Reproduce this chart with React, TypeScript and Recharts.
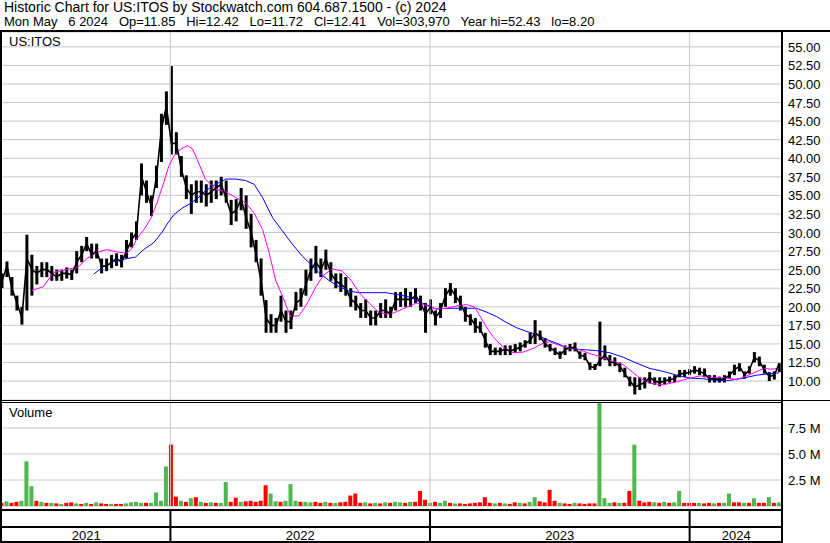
import React from 'react';
import { ComposedChart, Bar, Line, XAxis, YAxis, CartesianGrid, ReferenceLine } from 'recharts';

const FONT = '"Liberation Sans", Arial, sans-serif';

// weekly bars, week 0 = early May 2021
const priceClose = [
  23.5, 25.5, 22.5, 20.5, 18.5, 26.5, 25, 24.5, 25, 25,
  24.5, 24, 24.5, 24.5, 24.3, 26, 27, 28.5, 27, 27.5,
  25.5, 25.5, 26, 26.5, 26, 27.5, 29, 30, 37.5, 35.5,
  33.5, 37.5, 44, 47, 42, 42, 38.5, 36, 35, 35.5,
  35.5, 35, 35.5, 36, 36.5, 34.5, 32.5, 33, 34.5, 32,
  30, 27, 23.5, 18.5, 17.5, 17.5, 19.5, 18, 18, 20.5,
  21, 23, 25, 26, 25, 26.5, 24.5, 23.5, 23, 22.5,
  21, 20.5, 19.5, 19.5, 18.5, 18.5, 19.5, 19.5, 19, 21,
  21, 21, 21, 21.5, 20.5, 19, 20, 18.5, 19.5, 21.5,
  22.5, 21.5, 20.5, 19, 18.5, 17.5, 17, 15.5, 14, 14,
  14, 14.3, 14, 14.3, 14.5, 15, 15.5, 16.5, 16, 15,
  14.5, 14, 13.5, 14.2, 14.5, 14.5, 13.5, 13.3, 12, 11.8,
  12.8, 13.5, 12.5, 12.5, 12, 11, 10, 9.2, 9.5, 9.8,
  10.5, 10, 9.8, 10, 10.2, 10.3, 11, 11, 11.2, 11.5,
  11.3, 11, 10.3, 10.3, 10.2, 10.3, 10.8, 11.5, 12, 10.8,
  11.5, 13.2, 12.7, 11.5, 10.6, 10.8, 12.4,
];
const priceLo = [
  22.5, 24, 21.5, 19.5, 17.6, 19.5, 21.5, 23, 24, 24,
  23.5, 23.5, 23.5, 23.8, 23.6, 24.5, 26, 27.5, 26.5, 26.5,
  24.5, 24.8, 25.2, 25.5, 25.3, 26.5, 28, 29, 35, 34,
  32.2, 36, 39.5, 44.5, 40.5, 40.5, 37.5, 34.5, 32.5, 34,
  34, 33.5, 34, 34.5, 35, 34, 31, 31.5, 33, 30.5,
  28, 26, 21.5, 16.5, 16.5, 16.5, 18, 16.5, 17, 19.5,
  20, 21.5, 23.5, 24.5, 24, 25, 23.5, 22.5, 22, 21.5,
  20, 19.5, 18.5, 18.5, 17.5, 17.5, 18.5, 18.5, 18.5, 19.5,
  20, 20, 20, 20.5, 19.5, 16.5, 19, 17.5, 18.5, 20,
  21.5, 20.5, 19.5, 18, 17.5, 16.5, 16.5, 14.5, 13.5, 13.5,
  13.5, 13.5, 13.5, 13.8, 14, 14.5, 15, 15, 15.5, 14.5,
  14, 13.5, 13, 13.5, 14, 14, 13, 12.8, 11.5, 11.5,
  12, 12.8, 12, 12, 11.2, 10.5, 9.3, 8.2, 8.8, 9,
  9.7, 9.5, 9.3, 9.6, 9.8, 9.8, 10.5, 10.5, 10.8, 11,
  10.8, 10.5, 9.8, 9.8, 9.8, 9.8, 10.3, 10.8, 11.3, 10.3,
  11, 12.5, 12, 11, 10, 10.2, 11.2,
];
const priceHi = [
  24.5, 26.1, 24, 21.5, 20, 29.7, 27, 25.5, 26, 26,
  25.5, 25, 25, 25.3, 25, 27.5, 28.2, 29.4, 28.5, 28.5,
  26.5, 26.5, 27, 27.2, 27, 29, 30, 31.5, 39.3, 37,
  35, 39, 46, 49, 52.4, 43.5, 40.3, 37.7, 36.5, 37,
  37, 36.5, 37, 37, 37.5, 37, 34.4, 34.5, 36, 35,
  32.5, 29, 26.5, 20.9, 19, 18.5, 21.5, 19.5, 19.5, 22,
  22.5, 25, 26.5, 28.2, 26.5, 27.7, 26, 24.5, 24.5, 24,
  22.5, 21.5, 20.5, 21, 19.5, 19.5, 20.5, 21, 20, 22,
  22, 22.5, 22, 22.5, 21.5, 20.5, 21, 19.5, 20.5, 22.5,
  23.2, 22.5, 21.5, 20, 19, 18.5, 18, 16.5, 15, 14.5,
  14.5, 14.8, 14.8, 15, 15.2, 15.5, 16.5, 18.2, 16.8, 15.8,
  15, 14.5, 14, 14.8, 15, 15.2, 14, 13.8, 12.5, 12.3,
  18, 14.8, 13.5, 13.2, 12.5, 11.8, 10.6, 10.5, 10.5, 10.5,
  11.2, 10.5, 10.5, 10.5, 10.6, 10.8, 11.5, 11.5, 11.6, 12,
  11.8, 11.7, 10.8, 10.8, 10.6, 10.8, 11.3, 12.2, 12.4, 11.3,
  12, 13.9, 13.3, 12.2, 11.2, 11.3, 12.4,
];

// volume in millions, u = up day, d = down day
const volume = [
  0.3, 0.45, 0.3, 0.4, 0.5, 4.3, 1.9, 0.5, 0.4, 0.3,
  0.3, 0.25, 0.2, 0.3, 0.35, 0.25, 0.2, 0.3, 0.2, 0.35,
  0.25, 0.2, 0.2, 0.2, 0.2, 0.25, 0.35, 0.4, 0.3, 0.3,
  0.3, 1.3, 0.5, 3.8, 5.9, 0.9, 0.5, 0.4, 0.75, 0.85,
  0.4, 0.3, 0.35, 0.3, 0.3, 2.3, 0.4, 0.8, 0.4, 0.45,
  0.5, 0.4, 0.5, 2.0, 1.2, 0.45, 0.4, 0.5, 2.1, 0.5,
  0.4, 0.4, 0.35, 0.4, 0.3, 0.4, 0.3, 0.3, 0.35, 0.4,
  1.0, 1.2, 0.3, 0.35, 0.25, 0.3, 0.25, 0.35, 0.3, 0.4,
  0.35, 0.3, 0.4, 0.4, 1.45, 0.6, 0.3, 0.4, 0.3, 0.5,
  0.3, 0.25, 0.25, 0.2, 0.25, 0.3, 0.35, 0.85, 0.3, 0.25,
  0.3, 0.25, 0.2, 0.35, 0.3, 0.25, 0.4, 0.85, 0.45, 0.35,
  1.55, 0.5, 0.3, 0.25, 0.2, 0.3, 0.25, 0.2, 0.25, 0.25,
  10, 0.75, 0.3, 0.35, 0.3, 0.3, 1.45, 5.9, 0.5, 0.35,
  0.4, 0.35, 0.3, 0.4, 0.3, 0.35, 1.45, 0.3, 0.3, 0.3,
  0.3, 0.25, 0.3, 0.25, 0.3, 0.3, 1.2, 0.35, 0.35, 0.3,
  0.3, 0.75, 0.3, 0.3, 0.85, 0.3, 0.35,
];
const volumeDir = [
  'd', 'u', 'd', 'd', 'u', 'u', 'u', 'd', 'u', 'd',
  'u', 'd', 'u', 'd', 'd', 'u', 'd', 'u', 'd', 'u',
  'd', 'd', 'u', 'd', 'd', 'u', 'u', 'u', 'u', 'd',
  'u', 'u', 'u', 'u', 'd', 'd', 'u', 'd', 'u', 'd',
  'u', 'd', 'u', 'd', 'u', 'u', 'd', 'd', 'u', 'd',
  'd', 'd', 'd', 'd', 'u', 'u', 'd', 'u', 'u', 'u',
  'd', 'u', 'u', 'd', 'd', 'u', 'd', 'u', 'd', 'd',
  'd', 'd', 'd', 'u', 'd', 'u', 'd', 'u', 'd', 'u',
  'u', 'd', 'u', 'd', 'd', 'd', 'u', 'd', 'u', 'u',
  'd', 'u', 'd', 'd', 'd', 'd', 'd', 'd', 'd', 'u',
  'd', 'u', 'd', 'd', 'u', 'd', 'u', 'u', 'd', 'd',
  'd', 'd', 'u', 'd', 'd', 'u', 'd', 'd', 'd', 'd',
  'u', 'u', 'u', 'd', 'u', 'd', 'd', 'u', 'd', 'd',
  'd', 'u', 'd', 'u', 'd', 'u', 'u', 'd', 'd', 'd',
  'u', 'd', 'd', 'u', 'd', 'u', 'u', 'd', 'd', 'u',
  'd', 'u', 'd', 'd', 'u', 'd', 'u',
];

// moving averages: [week, value]
const fastAvg = [
  [6, 22.2], [8.3, 22.7], [10.3, 24.6], [13, 25], [15.4, 25.4], [17, 26.5], [19, 27.3], [21, 27.7],
  [23, 27.4], [25, 27.2], [26, 27.8], [27.1, 29.2], [28.4, 30.3], [29.8, 31.8], [31.1, 34], [32.5, 36.8],
  [33.5, 39], [34.5, 40.3], [35.8, 41.2], [37.2, 41.7], [38.2, 41.3], [39.2, 39.8], [40.8, 37.2], [42.9, 35.8],
  [44.9, 35.5], [46.9, 34.7], [48.9, 34], [50.6, 32.6], [52.3, 30.4], [53.6, 27.3], [54.9, 23.6], [56.3, 21.4],
  [57.9, 18.7], [59.6, 18.8], [61.3, 20.5], [63, 22.7], [64.6, 24.3], [66.3, 25.1], [68.3, 24.8], [70, 23.6],
  [71.7, 21.9], [73.7, 20.5], [75.4, 19.4], [77.1, 19], [78.7, 19.2], [80.4, 19.7], [83.1, 20.5], [85.1, 20.2],
  [87.1, 19.7], [89.1, 19.8], [91.1, 20.1], [93.2, 20.3], [94.8, 20], [95.8, 18.9], [97.2, 17.3], [98.5, 16],
  [100.5, 14.6], [102.6, 13.8], [104.6, 13.9], [106.6, 14.4], [108.6, 15.1], [109.9, 15.3], [111.9, 14.8], [113.9, 14.4],
  [116, 14.2], [118, 13.7], [120, 13.3], [122, 12.8], [124.7, 12.2], [126, 11.5], [128, 10.4], [130, 9.7],
  [132.7, 9.5], [135.4, 9.9], [138.1, 10.4], [140.1, 10.7], [142.8, 10.5], [145.5, 10.4], [147.5, 10.2], [149.5, 10.7],
  [151.5, 11.3], [152.9, 11.7], [154.2, 11.6], [155.9, 11.7],
];
const slowAvg = [
  [18.4, 24.4], [20.4, 25.4], [22.4, 26.1], [24.4, 26.4], [26.8, 26.7], [28.4, 27.7], [30.4, 28.6], [32.1, 30],
  [33.1, 31.1], [34.5, 32.4], [36.2, 33.3], [37.8, 33.9], [39.8, 34.9], [40.8, 35.6], [42.9, 36.5], [44.9, 37.2],
  [46.9, 37.2], [48.9, 37], [50.6, 36.5], [52.3, 34.7], [54.3, 32], [56.3, 30.2], [58.3, 28.4], [60.3, 26.8],
  [62, 25.7], [63.6, 24.6], [65.7, 23.5], [67.7, 22.7], [69.7, 22.1], [71.7, 21.9], [74.4, 21.9], [77.1, 21.9],
  [79.7, 21.6], [81.8, 21.3], [84.4, 20.5], [87.1, 19.7], [89.8, 19.8], [92.5, 19.8], [95.2, 19.8], [97.2, 19.3],
  [99.2, 18.7], [101.2, 17.9], [103.2, 17.2], [105.2, 16.7], [107.2, 16.3], [109.3, 15.6], [111.3, 15.1], [113.3, 14.5],
  [115.3, 14.3], [117.3, 14.2], [119.3, 14.1], [122, 13.8], [124.7, 13.2], [127.4, 12.4], [130, 11.7], [132.7, 11.3],
  [135.4, 10.8], [138.1, 10.4], [140.8, 10.3], [143.5, 10.05], [146.1, 10.1], [148.8, 10.4], [151.5, 10.8], [154.2, 11],
  [155.9, 11.1],
];

const priceTicks = [10, 12.5, 15, 17.5, 20, 22.5, 25, 27.5, 30, 32.5, 35, 37.5, 40, 42.5, 45, 47.5, 50, 52.5, 55];
const volumeTicks = [2.5, 5, 7.5];
const years = ['2021', '2022', '2023', '2024'];
const yearStarts = [33.8, 85.9, 138.0]; // weeks where 2022, 2023, 2024 begin
const WEEK_END = 156.74;

const bars = priceClose.map((c, i) => ({
  w: i,
  close: c,
  range: [priceLo[i], priceHi[i]],
  vol: volume[i],
  up: volumeDir[i] === 'u',
}));
const fastData = fastAvg.map(([w, v]) => ({ w, v }));
const slowData = slowAvg.map(([w, v]) => ({ w, v }));

const bounds = [0, ...yearStarts, WEEK_END];
const yearMids = years.map((_, i) => (bounds[i] + bounds[i + 1]) / 2);

const PriceTick = (props: any) => (
  <text x={props.x} y={props.y} dy={5} fontSize={13} fontFamily={FONT} fill="#000" textAnchor="start">
    {Number(props.payload.value).toFixed(2)}
  </text>
);

const VolTick = (props: any) => (
  <text x={props.x} y={props.y} dy={5} fontSize={13} fontFamily={FONT} fill="#000" textAnchor="start">
    {Number(props.payload.value).toFixed(1) + ' M'}
  </text>
);

const YearTick = (props: any) => {
  const v = props.payload.value;
  if (yearStarts.indexOf(v) >= 0) {
    return <line x1={props.x} x2={props.x} y1={107} y2={141} stroke="#000" strokeWidth={2} />;
  }
  const idx = yearMids.indexOf(v);
  return (
    <text x={props.x} y={138} fontSize={13} fontFamily={FONT} fill="#000" textAnchor="middle">
      {years[idx]}
    </text>
  );
};

// fixed-width sticks centred on the week
const PriceStick = (p: any) => {
  if (p.height == null || isNaN(p.y)) return null;
  const cx = p.x + p.width / 2;
  return <rect x={cx - 1.5} y={p.y} width={3} height={Math.max(Math.abs(p.height), 1)} fill="#000" />;
};
const VolStick = (p: any) => {
  if (p.height == null || isNaN(p.y)) return null;
  const cx = p.x + p.width / 2;
  return (
    <rect x={cx - 2} y={p.y} width={4} height={Math.max(p.height, 1)} fill={p.payload && p.payload.up ? '#4db84d' : '#ff0000'} />
  );
};

const hline = (top: number, h: number, w = 783) => (
  <div style={{ position: 'absolute', left: 0, top, width: w, height: h, background: '#000' }} />
);

export default function App() {
  return (
    <div style={{ position: 'absolute', left: 0, top: 0, width: 830, height: 543, background: '#fff', overflow: 'hidden', fontFamily: FONT }}>
      <div style={{ position: 'absolute', left: 4, top: 0, fontSize: 14, lineHeight: '15px', whiteSpace: 'pre', color: '#000' }}>
        Historic Chart for US:ITOS by Stockwatch.com 604.687.1500 - (c) 2024
      </div>
      <div style={{ position: 'absolute', left: 4, top: 15, fontSize: 13, lineHeight: '14px', whiteSpace: 'pre', color: '#000' }}>
        {'Mon May   6 2024   Op=11.85   Hi=12.42   Lo=11.72   Cl=12.41   Vol=303,970   Year hi=52.43   lo=8.20'}
      </div>

      <div style={{ position: 'absolute', left: 2, top: 32 }}>
        <ComposedChart width={826} height={368} data={bars} margin={{ top: 0, right: 0, bottom: 0, left: 0 }}>
          <CartesianGrid vertical={false} stroke="#c8c8c8" />
          <XAxis dataKey="w" type="number" domain={[0, WEEK_END]} allowDataOverflow hide />
          <YAxis
            orientation="right"
            width={45}
            domain={[7.45, 57]}
            allowDataOverflow
            ticks={priceTicks}
            interval={0}
            axisLine={false}
            tickLine={false}
            tickSize={0}
            tickMargin={5}
            tick={<PriceTick />}
          />
          {yearStarts.map((w) => (
            <ReferenceLine key={w} x={w} stroke="#c8c8c8" />
          ))}
          <Line data={slowData} dataKey="v" type="linear" stroke="#0000ff" strokeWidth={1} dot={false} isAnimationActive={false} />
          <Line data={fastData} dataKey="v" type="linear" stroke="#ff00ff" strokeWidth={1} dot={false} isAnimationActive={false} />
          <Bar dataKey="range" fill="#000" barSize={3} shape={<PriceStick />} isAnimationActive={false} />
          <Line dataKey="close" type="linear" stroke="#000" strokeWidth={1.6} dot={false} isAnimationActive={false} />
        </ComposedChart>
      </div>

      <div style={{ position: 'absolute', left: 2, top: 402 }}>
        <ComposedChart width={826} height={141} data={bars} margin={{ top: 0, right: 0, bottom: 0, left: 0 }}>
          <CartesianGrid vertical={false} stroke="#c8c8c8" />
          <XAxis
            dataKey="w"
            type="number"
            domain={[0, WEEK_END]}
            allowDataOverflow
            ticks={[...yearStarts, ...yearMids]}
            interval={0}
            height={37}
            axisLine={false}
            tickLine={false}
            tick={<YearTick />}
          />
          <YAxis
            orientation="right"
            width={45}
            domain={[0, 10]}
            allowDataOverflow
            ticks={volumeTicks}
            interval={0}
            axisLine={false}
            tickLine={false}
            tickSize={0}
            tickMargin={5}
            tick={<VolTick />}
          />
          {yearStarts.map((w) => (
            <ReferenceLine key={w} x={w} stroke="#c8c8c8" />
          ))}
          <Bar dataKey="vol" barSize={4} fill="#ff0000" shape={<VolStick />} isAnimationActive={false} />
        </ComposedChart>
      </div>

      {hline(30, 2, 830)}
      {hline(400, 1, 830)}
      {hline(402, 1)}
      {hline(509, 2)}
      {hline(526, 2)}
      {hline(541, 2)}
      <div style={{ position: 'absolute', left: 0, top: 30, width: 2, height: 513, background: '#000' }} />
      <div style={{ position: 'absolute', left: 781, top: 30, width: 2, height: 513, background: '#000' }} />

      <div style={{ position: 'absolute', left: 9, top: 34, fontSize: 13, color: '#000' }}>US:ITOS</div>
      <div style={{ position: 'absolute', left: 9, top: 405, fontSize: 13, color: '#000' }}>Volume</div>
    </div>
  );
}
